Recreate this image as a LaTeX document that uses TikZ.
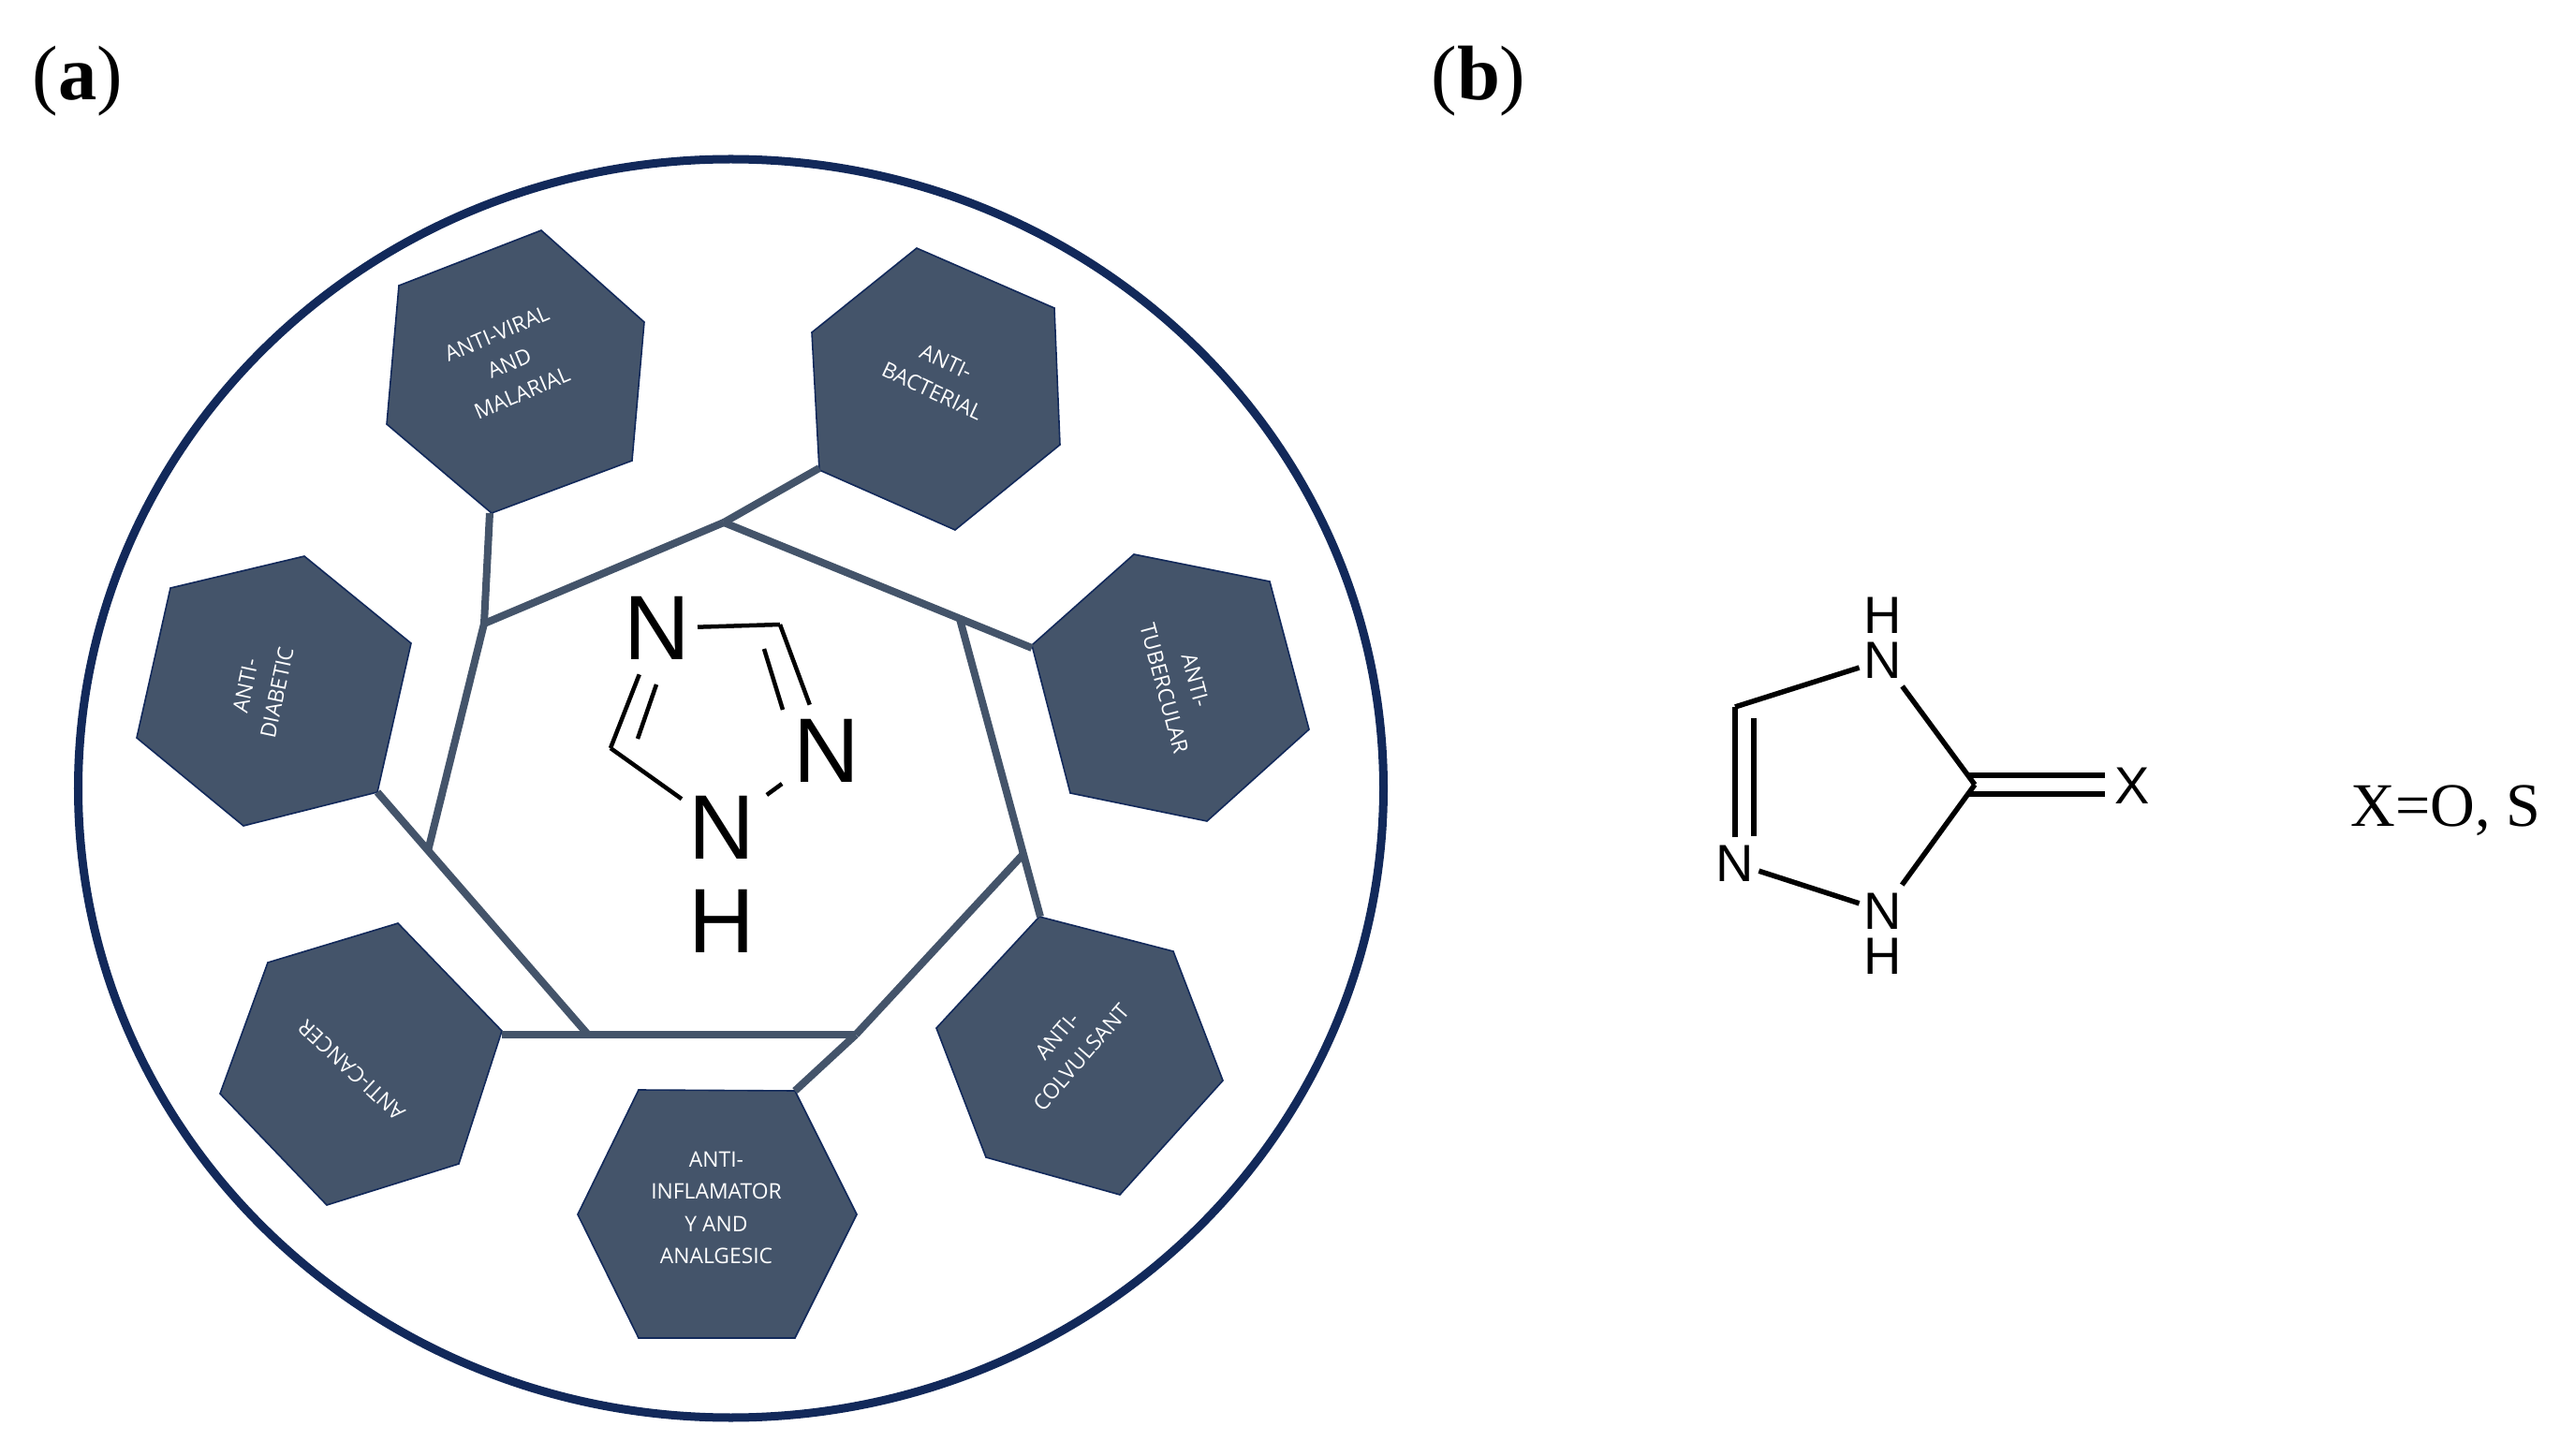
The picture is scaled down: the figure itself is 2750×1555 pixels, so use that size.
\documentclass[tikz,border=0pt]{standalone}
\usepackage{fontspec}
\setmainfont{Liberation Serif}
\setsansfont{Open Sans}
\newfontfamily\atomfont{Liberation Sans}
\definecolor{hexfill}{HTML}{44546A}
\definecolor{navy}{HTML}{12295A}

\begin{document}
\begin{tikzpicture}[x=.01cm,y=-.01cm]
\tikzstyle{hex}=[draw=navy,fill=hexfill,line width=.16mm,line join=miter]
\tikzstyle{link}=[draw=hexfill,line width=.08cm]
\tikzstyle{bond}=[draw=black,line width=.045cm]
\tikzstyle{bondb}=[draw=black,line width=.055cm]
\tikzstyle{hextext}=[text=white,align=center,inner sep=0pt,font=\sffamily\fontsize{6.5}{9.8}\selectfont]
\tikzstyle{bigatom}=[inner xsep=.07cm,inner ysep=.15cm,font=\atomfont\fontsize{27.8}{28}\selectfont]
\tikzstyle{atom}=[inner xsep=.045cm,inner ysep=.08cm,font=\atomfont\fontsize{15.9}{16}\selectfont]
\tikzstyle{panel}=[anchor=base,inner sep=0pt,font=\fontsize{23.5}{25}\selectfont]
\useasboundingbox (0,0) rectangle (2750,1555);
\draw (83,107) node (pa) [panel] {(\textbf{a})};
\draw (1579,107) node (pb) [panel] {(\textbf{b})};
\draw[navy,line width=.09cm] (780.5,842) ellipse [x radius=697,y radius=672];
% hexagons
\draw[hex] (578,246) -- (688,344) -- (675,492) -- (525,548) -- (413,453) -- (426,305) -- cycle;
\draw[hex] (979,265) -- (1126,329) -- (1132,475) -- (1020,566) -- (875,502) -- (867,355) -- cycle;
\draw[hex] (1211,592) -- (1356,621) -- (1398,779) -- (1289,877) -- (1143,847) -- (1102,689) -- cycle;
\draw[hex] (1110,979) -- (1253,1016) -- (1306,1154) -- (1196,1276) -- (1053,1236) -- (1000,1098) -- cycle;
\draw[hex] (682,1164) -- (849,1165) -- (915,1297) -- (849,1429) -- (682,1429) -- (617,1297) -- cycle;
\draw[hex] (425,986) -- (536,1101) -- (490,1243) -- (349,1287) -- (235,1168) -- (286,1028) -- cycle;
\draw[hex] (325,594) -- (439,687) -- (403,846) -- (260,882) -- (146,788) -- (182,628) -- cycle;
\draw (544,388) node (t1) [hextext,rotate=23] {ANTI-VIRAL\\AND\\MALARIAL};
\draw (1003,402) node (t2) [hextext,rotate=-25] {ANTI-\\BACTERIAL};
\draw (1260,731) node (t3) [hextext,rotate=-75] {ANTI-\\TUBERCULAR};
\draw (1142,1118) node (t4) [hextext,rotate=49] {ANTI-\\COLVULSANT};
\draw (765,1290) node (t5) [hextext] {ANTI-\\INFLAMATOR\\Y AND\\ANALGESIC};
\draw (376,1143) node (t6) [hextext,rotate=137] {ANTI-CANCER};
\draw (279,736) node (t7) [hextext,rotate=78] {ANTI-\\DIABETIC};
% ring of links
\coordinate (h1) at (773,558);
\coordinate (h2) at (1025,661);
\coordinate (h3) at (1093,912);
\coordinate (h4) at (914,1105);
\coordinate (h5) at (628,1105);
\coordinate (h6) at (457,909);
\coordinate (h7) at (517,666);
\coordinate (e1) at (523,548);
\coordinate (e2) at (875,500);
\coordinate (e3) at (1102,692);
\coordinate (e4) at (1111,979);
\coordinate (e5) at (849,1165);
\coordinate (e6) at (536,1105);
\coordinate (e7) at (403,846);
\draw[link] (e1) -- (h7);
\draw[link] (e2) -- (h1);
\draw[link] (h1) -- (e3);
\draw[link] (h2) -- (e4);
\draw[link] (h3) -- (h4);
\draw[link] (h4) -- (e5);
\draw[link] (e6) -- (h4);
\draw[link] (e7) -- (h5);
\draw[link] (h6) -- (h7);
\draw[link] (h7) -- (h1);
% triazole in the ring
\draw (702,671) node (n1) [bigatom] {N};
\draw (883,802) node (n2) [bigatom] {N};
\draw (771,884) node (n3) [bigatom] {N};
\draw (771,984) node (h8) [bigatom] {H};
\coordinate (c1) at (833,667);
\coordinate (c2) at (652,799);
\coordinate (i1) at (816,693);
\coordinate (i2) at (836,758);
\coordinate (i3) at (701,731);
\coordinate (i4) at (681,789);
\draw[bond] (n1) -- (c1);
\draw[bond] (c1) -- (n2);
\draw[bond] (i1) -- (i2);
\draw[bond,shorten <=.06cm,shorten >=.06cm] (n2) -- (n3);
\draw[bond] (n3) -- (c2);
\draw[bond] (c2) -- (n1);
\draw[bond] (i3) -- (i4);
% panel b
\draw (2011,657) node (h9) [atom] {H};
\draw (2011,705) node (n4) [atom] {N};
\draw (1853,922) node (n5) [atom] {N};
\draw (2011,973) node (n6) [atom] {N};
\draw (2011,1021) node (h10) [atom] {H};
\draw (2277,839) node (x1) [atom] {X};
\draw (2612,883) node (x2) [anchor=base,inner sep=0pt,font=\fontsize{18.8}{19}\selectfont] {X=O, S};
\coordinate (c3) at (1853,755);
\coordinate (c4) at (2109,838);
\coordinate (i5) at (1873,767);
\coordinate (i6) at (1873,893);
\coordinate (d1) at (2103,828);
\coordinate (d2) at (2248,828);
\coordinate (d3) at (2103,848);
\coordinate (d4) at (2248,848);
\draw[bondb] (c3) -- (n4);
\draw[bondb] (n4) -- (c4);
\draw[bondb] (c4) -- (n6);
\draw[bondb] (n6) -- (n5);
\draw[bondb] (n5) -- (c3);
\draw[bondb] (i5) -- (i6);
\draw[bondb] (d1) -- (d2);
\draw[bondb] (d3) -- (d4);
\end{tikzpicture}
\end{document}
